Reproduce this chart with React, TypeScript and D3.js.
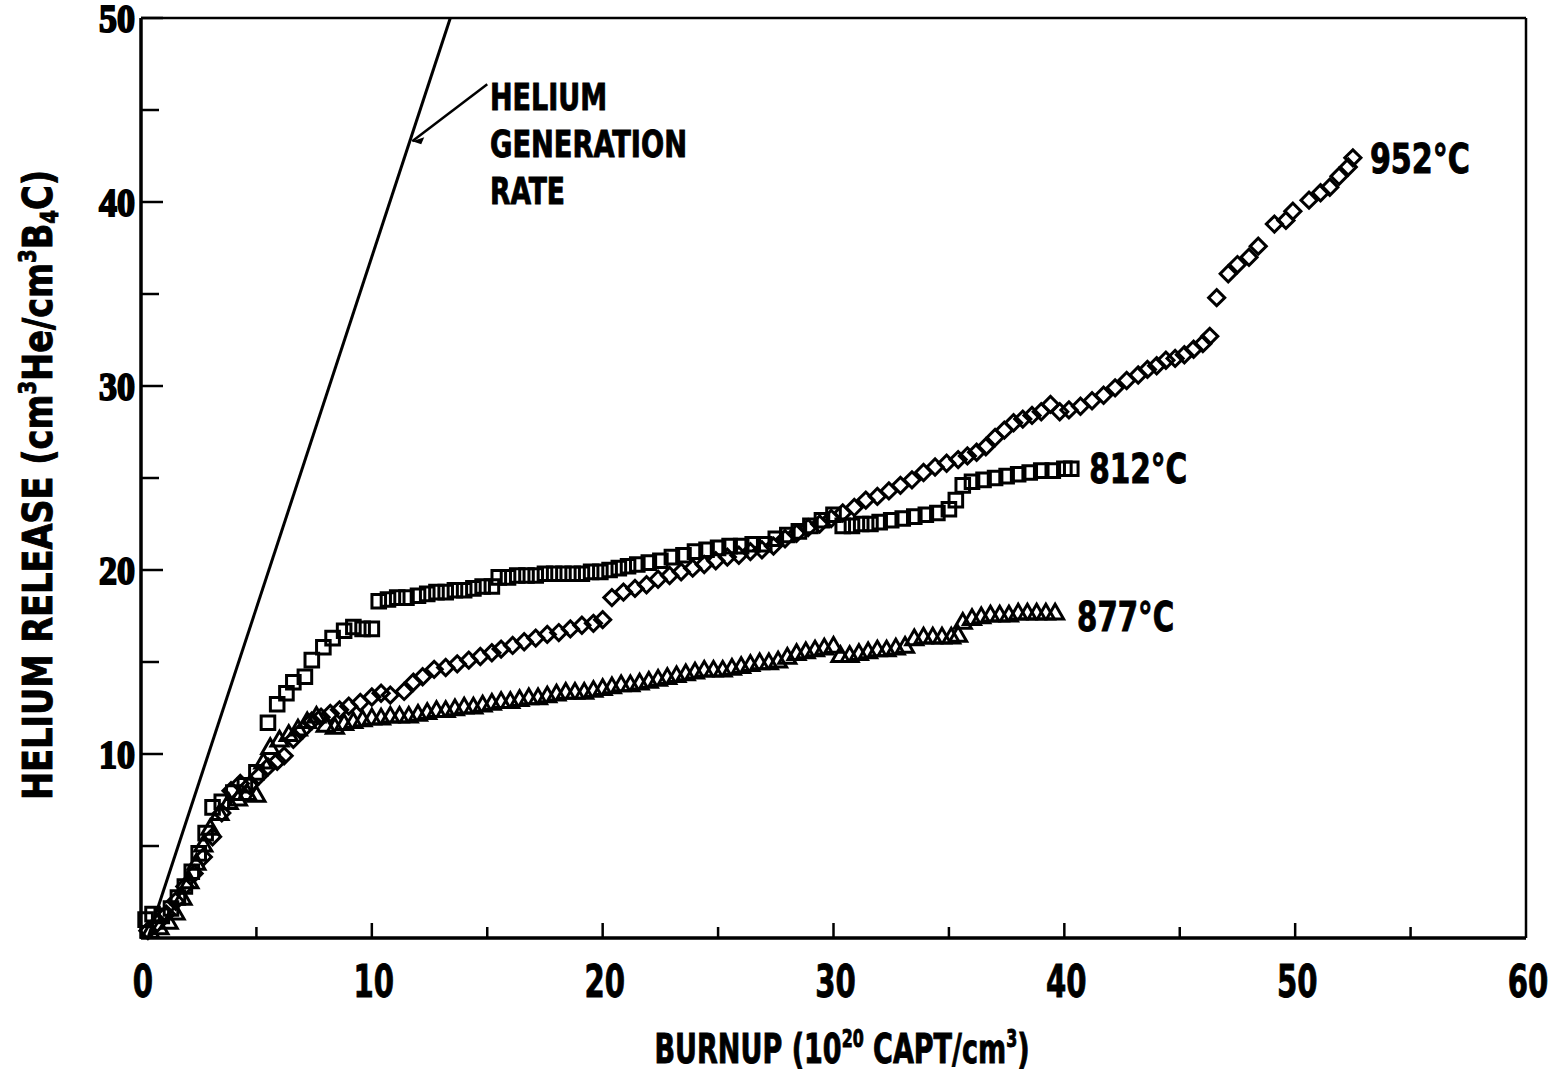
import React from 'react';
import * as d3 from 'd3';

// burnup (1e20 capt/cm3), helium release (cm3 He / cm3 B4C)
const data812: [number, number][] = [
  [0.2, 1.0], [0.5, 1.3], [0.9, 1.2], [1.3, 1.6], [1.6, 2.2], [1.9, 2.8], [2.2, 3.6], [2.5, 4.6],
  [2.8, 5.7], [3.1, 7.1], [3.5, 7.4], [4.0, 7.9], [4.5, 8.3], [5.0, 9.0], [5.5, 11.7], [5.9, 12.7],
  [6.3, 13.3], [6.6, 13.9], [7.1, 14.2], [7.4, 15.1], [7.9, 15.8], [8.3, 16.3], [8.8, 16.7], [9.2, 16.9],
  [9.6, 16.8], [10.0, 16.8], [10.3, 18.3], [10.7, 18.4], [11.1, 18.5], [11.5, 18.5], [12.0, 18.6],
  [12.4, 18.7], [12.8, 18.8], [13.2, 18.8], [13.6, 18.9], [14.0, 18.9], [14.4, 19.0], [14.8, 19.1],
  [15.2, 19.1], [15.5, 19.6], [15.9, 19.6], [16.3, 19.7], [16.7, 19.7], [17.1, 19.7], [17.5, 19.8],
  [17.9, 19.8], [18.3, 19.8], [18.7, 19.8], [19.1, 19.8], [19.5, 19.9], [19.9, 19.9], [20.3, 20.0],
  [20.7, 20.1], [21.1, 20.2], [21.5, 20.3], [22.0, 20.4], [22.5, 20.5], [23.0, 20.7], [23.5, 20.8],
  [24.0, 21.0], [24.5, 21.1], [25.0, 21.2], [25.5, 21.3], [26.0, 21.3], [26.5, 21.4], [27.0, 21.4],
  [27.5, 21.7], [28.0, 21.9], [28.5, 22.1], [29.0, 22.4], [29.5, 22.7], [30.0, 23.0], [30.4, 22.4],
  [30.8, 22.4], [31.2, 22.5], [31.6, 22.5], [32.0, 22.6], [32.5, 22.7], [33.0, 22.8], [33.5, 22.9],
  [34.0, 23.0], [34.5, 23.1], [35.0, 23.3], [35.3, 23.8], [35.6, 24.6], [36.0, 24.8], [36.5, 24.9],
  [37.0, 25.0], [37.5, 25.1], [38.0, 25.2], [38.5, 25.3], [39.0, 25.4], [39.5, 25.4], [40.0, 25.5],
  [40.3, 25.5],
];

const data877: [number, number][] = [
  [0.4, 0.3], [0.8, 0.5], [1.2, 0.8], [1.5, 1.3], [1.8, 2.1], [2.1, 3.0], [2.4, 4.0], [2.7, 5.0],
  [3.0, 5.9], [3.4, 6.7], [3.8, 7.3], [4.2, 7.5], [4.6, 7.8], [5.0, 7.7], [5.3, 9.5], [5.6, 10.3],
  [6.0, 10.7], [6.4, 11.0], [6.8, 11.3], [7.2, 11.7], [7.6, 12.0], [8.0, 11.5], [8.4, 11.4], [8.8, 11.6],
  [9.2, 11.7], [9.6, 11.8], [10.0, 11.9], [10.4, 11.9], [10.8, 12.0], [11.2, 12.0], [11.6, 12.0],
  [12.0, 12.1], [12.4, 12.2], [12.8, 12.3], [13.2, 12.3], [13.6, 12.4], [14.0, 12.5], [14.4, 12.5],
  [14.8, 12.6], [15.2, 12.7], [15.6, 12.8], [16.0, 12.8], [16.4, 12.9], [16.8, 13.0], [17.2, 13.0],
  [17.6, 13.1], [18.0, 13.2], [18.4, 13.3], [18.8, 13.3], [19.2, 13.3], [19.6, 13.4], [20.0, 13.5],
  [20.4, 13.6], [20.8, 13.7], [21.2, 13.7], [21.6, 13.8], [22.0, 13.9], [22.4, 14.0], [22.8, 14.1],
  [23.2, 14.2], [23.6, 14.3], [24.0, 14.4], [24.4, 14.5], [24.8, 14.5], [25.2, 14.5], [25.6, 14.6],
  [26.0, 14.7], [26.4, 14.8], [26.8, 14.9], [27.2, 14.9], [27.6, 15.0], [28.0, 15.2], [28.4, 15.4],
  [28.8, 15.5], [29.2, 15.6], [29.6, 15.7], [30.0, 15.8], [30.3, 15.3], [30.7, 15.3], [31.1, 15.4],
  [31.5, 15.5], [31.9, 15.6], [32.3, 15.6], [32.7, 15.7], [33.1, 15.8], [33.5, 16.2], [33.9, 16.3],
  [34.3, 16.3], [34.7, 16.3], [35.1, 16.3], [35.4, 16.4], [35.6, 17.1], [36.0, 17.3], [36.4, 17.4],
  [36.8, 17.5], [37.2, 17.5], [37.6, 17.5], [38.0, 17.6], [38.4, 17.6], [38.8, 17.6], [39.2, 17.6],
  [39.6, 17.6],
];

const data952: [number, number][] = [
  [0.3, 0.4], [0.7, 0.8], [1.1, 1.3], [1.5, 2.0], [1.9, 2.8], [2.3, 3.5], [2.7, 4.4], [3.1, 5.5],
  [3.5, 6.8], [3.9, 8.0], [4.3, 8.4], [4.7, 8.3], [5.1, 8.8], [5.5, 9.3], [5.9, 9.6], [6.2, 9.9],
  [6.6, 10.8], [7.0, 11.3], [7.4, 11.8], [7.8, 12.0], [8.2, 12.2], [8.6, 12.4], [9.0, 12.6], [9.5, 12.8],
  [10.0, 13.1], [10.4, 13.3], [10.8, 13.2], [11.4, 13.4], [11.8, 13.9], [12.2, 14.2], [12.7, 14.6],
  [13.2, 14.7], [13.7, 14.9], [14.2, 15.1], [14.7, 15.3], [15.2, 15.5], [15.6, 15.7], [16.1, 15.9],
  [16.6, 16.1], [17.1, 16.3], [17.6, 16.5], [18.1, 16.6], [18.6, 16.8], [19.1, 17.0], [19.6, 17.1],
  [20.0, 17.3], [20.4, 18.5], [20.9, 18.8], [21.4, 19.0], [21.9, 19.2], [22.4, 19.5], [22.9, 19.7],
  [23.4, 19.9], [23.9, 20.1], [24.4, 20.3], [24.9, 20.5], [25.4, 20.7], [25.9, 20.8], [26.4, 21.0],
  [26.9, 21.1], [27.4, 21.3], [27.9, 21.7], [28.4, 22.0], [28.9, 22.3], [29.4, 22.5], [29.9, 22.8],
  [30.4, 23.1], [30.9, 23.4], [31.4, 23.8], [31.9, 24.0], [32.4, 24.3], [32.9, 24.6], [33.4, 24.9],
  [33.9, 25.3], [34.4, 25.6], [34.9, 25.8], [35.4, 26.0], [35.8, 26.2], [36.2, 26.4], [36.6, 26.7],
  [37.0, 27.2], [37.4, 27.6], [37.8, 28.0], [38.2, 28.2], [38.6, 28.4], [39.0, 28.6], [39.4, 29.0],
  [39.8, 28.6], [40.2, 28.7], [40.7, 28.9], [41.2, 29.2], [41.7, 29.5], [42.2, 29.9], [42.7, 30.3],
  [43.2, 30.6], [43.6, 30.9], [44.0, 31.1], [44.4, 31.4], [44.8, 31.5], [45.2, 31.7], [45.6, 32.0],
  [46.0, 32.3], [46.3, 32.7], [46.6, 34.8], [47.1, 36.1], [47.5, 36.6], [48.0, 37.0], [48.4, 37.6],
  [49.1, 38.8], [49.6, 39.0], [49.9, 39.5], [50.6, 40.1], [51.1, 40.5], [51.5, 40.8], [51.9, 41.4],
  [52.3, 41.9], [52.5, 42.4],
];

// helium generation rate line
const genBurnup = [0.3, 13.4];
const genRelease = [0, 50];

const xMajor = [0, 10, 20, 30, 40, 50, 60];
const xMinor = [5, 15, 25, 35, 45, 55];
const yMajor = [10, 20, 30, 40, 50];
const yMinor = [5, 15, 25, 35, 45];
const yLabels = ['10', '20', '30', '40', '50'];

const W = 1559;
const H = 1073;
const NARROW = "'Liberation Sans Narrow', 'DejaVu Sans Condensed', sans-serif";
const SLAB = "'Liberation Serif', 'DejaVu Serif', serif";

const x = d3.scaleLinear().domain([0, 60]).range([141, 1526]);
const y = d3.scaleLinear().domain([0, 50]).range([938, 18]);

const squarePath = d3.symbol().type(d3.symbolSquare).size(185)()!;
const diamondPath = d3.symbol().type(d3.symbolSquare).size(130)()!;
const trianglePath = d3.symbol().type(d3.symbolTriangle).size(125)()!;

const genLine = d3.line<number>()
  .x((_, i) => x(genBurnup[i]))
  .y((_, i) => y(genRelease[i]));

// heavy text, like the old typeset lettering
const heavy = { fill: '#000', stroke: '#000', strokeWidth: 0.9 };

function Markers({ pts, path, rotate = 0 }: { pts: [number, number][]; path: string; rotate?: number }) {
  return (
    <g>
      {pts.map(([bx, hr], i) => (
        <path
          key={i}
          d={path}
          transform={`translate(${x(bx)},${y(hr)}) rotate(${rotate})`}
          fill="none"
          stroke="#000"
          strokeWidth={3}
        />
      ))}
    </g>
  );
}

function SeriesLabel({ pt, text, dx, dy, len }: { pt: [number, number]; text: string; dx: number; dy: number; len: number }) {
  return (
    <text x={x(pt[0]) + dx} y={y(pt[1]) + dy} fontFamily={NARROW} fontWeight="bold" fontSize={40}
      textLength={len} lengthAdjust="spacingAndGlyphs" {...heavy}>{text}</text>
  );
}

export default function App() {
  const last952 = data952[data952.length - 1];
  const last812 = data812[data812.length - 1];
  const last877 = data877[data877.length - 1];

  return (
    <div>
      <style>{'body{margin:0;background:#fff}'}</style>
      <svg width={W} height={H} style={{ display: 'block', background: '#fff' }}>
        {/* frame */}
        <line x1={x(0)} x2={x(60)} y1={y(50)} y2={y(50)} stroke="#000" strokeWidth={2.5} />
        <line x1={x(60)} x2={x(60)} y1={y(50)} y2={y(0)} stroke="#000" strokeWidth={2.5} />
        <line x1={x(0)} x2={x(60)} y1={y(0)} y2={y(0)} stroke="#000" strokeWidth={3.5} />
        <line x1={x(0)} x2={x(0)} y1={y(50)} y2={y(0)} stroke="#000" strokeWidth={3.5} />

        {/* ticks */}
        {yMajor.map(v => (
          <line key={'ym' + v} x1={x(0)} x2={x(0) + 22} y1={y(v)} y2={y(v)} stroke="#000" strokeWidth={2.5} />
        ))}
        {yMinor.map(v => (
          <line key={'yn' + v} x1={x(0)} x2={x(0) + 18} y1={y(v)} y2={y(v)} stroke="#000" strokeWidth={2.5} />
        ))}
        {xMajor.slice(1, -1).map(v => (
          <line key={'xm' + v} x1={x(v)} x2={x(v)} y1={y(0)} y2={y(0) - 15} stroke="#000" strokeWidth={2.5} />
        ))}
        {xMinor.map(v => (
          <line key={'xn' + v} x1={x(v)} x2={x(v)} y1={y(0)} y2={y(0) - 11} stroke="#000" strokeWidth={2.5} />
        ))}

        {/* tick labels */}
        {xMajor.map(v => (
          <text key={'xl' + v} transform={`translate(${x(v) + 2},997) scale(0.72,1)`} textAnchor="middle"
            fontFamily={NARROW} fontWeight="bold" fontSize={45} {...heavy}>{v}</text>
        ))}
        {yMajor.map((v, i) => (
          <text key={'yl' + v} transform={`translate(135,${y(v) + 14}) scale(0.9,1)`} textAnchor="end"
            fontFamily={SLAB} fontWeight="bold" fontSize={40} fill="#000" stroke="#000" strokeWidth={2}>{yLabels[i]}</text>
        ))}

        {/* axis titles */}
        <text transform={`translate(52,${(y(0) + y(50)) / 2 + 7}) rotate(-90)`} textAnchor="middle"
          fontFamily={NARROW} fontWeight="bold" fontSize={41} textLength={630} lengthAdjust="spacingAndGlyphs" {...heavy}>
          HELIUM RELEASE (cm<tspan fontSize={24} dy={-16}>3</tspan><tspan dy={16}>He/cm</tspan>
          <tspan fontSize={24} dy={-16}>3</tspan><tspan dy={16}>B</tspan>
          <tspan fontSize={24} dy={6}>4</tspan><tspan dy={-6}>C)</tspan>
        </text>
        <text x={842} y={1063} textAnchor="middle" fontFamily={NARROW} fontWeight="bold" fontSize={41}
          textLength={375} lengthAdjust="spacingAndGlyphs" {...heavy}>
          BURNUP (10<tspan fontSize={24} dy={-16}>20</tspan><tspan dy={16}> CAPT/cm</tspan>
          <tspan fontSize={24} dy={-16}>3</tspan><tspan dy={16}>)</tspan>
        </text>

        {/* helium generation line */}
        <path d={genLine(genBurnup)!} fill="none" stroke="#000" strokeWidth={3} />

        {/* annotation */}
        <line x1={x(15.0)} y1={y(46.4)} x2={x(11.75)} y2={y(43.3)} stroke="#000" strokeWidth={2.5} />
        <path d={`M${x(11.75)},${y(43.3)} l12,-4 l-3,7 z`} fill="#000" />
        <g fontFamily={NARROW} fontWeight="bold" fontSize={38} {...heavy}>
          <text x={490} y={110} textLength={117} lengthAdjust="spacingAndGlyphs">HELIUM</text>
          <text x={490} y={157} textLength={197} lengthAdjust="spacingAndGlyphs">GENERATION</text>
          <text x={490} y={204} textLength={75} lengthAdjust="spacingAndGlyphs">RATE</text>
        </g>

        {/* data */}
        <Markers pts={data812} path={squarePath} />
        <Markers pts={data877} path={trianglePath} />
        <Markers pts={data952} path={diamondPath} rotate={45} />

        <SeriesLabel pt={last952} text="952°C" dx={17} dy={15} len={100} />
        <SeriesLabel pt={last812} text="812°C" dx={18} dy={14} len={98} />
        <SeriesLabel pt={last877} text="877°C" dx={22} dy={17} len={97} />
      </svg>
    </div>
  );
}
